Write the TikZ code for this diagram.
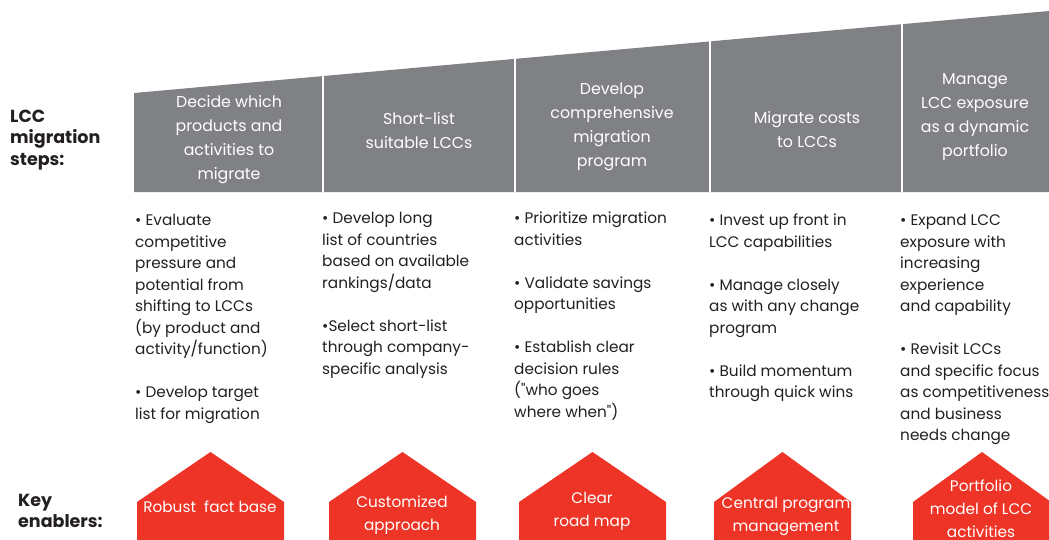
\documentclass[tikz,border=0pt]{standalone}
\usepackage{fontspec}
\setmainfont{Poppins}
\definecolor{bandgray}{HTML}{808184}
\definecolor{enablerred}{HTML}{EE3427}
\definecolor{ink}{HTML}{231F20}
\begin{document}
\begin{tikzpicture}[x=1pt, y=-1pt,
band/.style={fill=bandgray},
divider/.style={draw=white, line width=1.6pt},
head/.style={text=white, align=center, inner sep=0pt, font=\fontsize{15.8}{24}\selectfont},
bullets/.style={text=ink, align=left, anchor=north west, inner sep=0pt, font=\fontsize{15.3}{21.5}\selectfont},
house/.style={fill=enablerred},
housetext/.style={text=white, align=center, inner sep=0pt, font=\fontsize{15.3}{23}\selectfont},
rowlabel/.style={text=ink, align=left, anchor=west, inner sep=0pt, font=\bfseries\fontsize{17.5}{21.5}\selectfont},
]
\useasboundingbox (0,0) rectangle (1049,539);

% rising band of steps
\fill[band] (134,93) -- (1049,11) -- (1049,192) -- (134,192) -- cycle;
\foreach \x in {323,515,710,902}
    \draw[divider] (\x,0) -- (\x,192);

\node[rowlabel] (steps) at (10,140) {LCC\\migration\\steps:};

\node[head] (h1) at (229,140) {Decide which\\products and\\activities to\\migrate};
\node[head] (h2) at (419,131) {Short-list\\suitable LCCs};
\node[head] (h3) at (612,127) {Develop\\comprehensive\\migration\\program};
\node[head] (h4) at (807,130) {Migrate costs\\to LCCs};
\node[head] (h5) at (975,117) {Manage\\LCC exposure\\as a dynamic\\portfolio};

% bullet lists under each step
\node[bullets] (b1) at (135,214) {• Evaluate\\competitive\\pressure and\\potential from\\shifting to LCCs\\(by product and\\activity/function)\\[21.5pt]
    • Develop target\\list for migration};
\node[bullets] (b2) at (322,212) {• Develop long\\list of countries\\based on available\\rankings/data\\[21.5pt]
    •Select short-list\\through company-\\specific analysis};
\node[bullets] (b3) at (514,212) {• Prioritize migration\\activities\\[21.5pt]
    • Validate savings\\opportunities\\[21.5pt]
    • Establish clear\\decision rules\\(\textquotedbl who goes\\where when\textquotedbl)};
\node[bullets] (b4) at (709,214) {• Invest up front in\\LCC capabilities\\[21.5pt]
    • Manage closely\\as with any change\\program\\[21.5pt]
    • Build momentum\\through quick wins};
\node[bullets] (b5) at (900,214) {• Expand LCC\\exposure with\\increasing\\experience\\and capability\\[21.5pt]
    • Revisit LCCs\\and specific focus\\as competitiveness\\and business\\needs change};

% key enablers
\node[rowlabel] (enablers) at (18,511) {Key\\enablers:};
\foreach \xl/\xr in {137/284, 329/476, 519/666, 714/851, 913/1051}
    \fill[house] (\xl,540) -- (\xl,502) -- ({(\xl+\xr)/2},452) -- (\xr,502) -- (\xr,540) -- cycle;

\node[housetext] (e1) at (210,507) {Robust\ \ fact base};
\node[housetext] (e2) at (402,515) {Customized\\approach};
\node[housetext] (e3) at (592,511) {Clear\\road map};
\node[housetext] (e4) at (786,516) {Central program\\management};
\node[housetext] (e5) at (981,509) {Portfolio\\model of LCC\\activities};
\end{tikzpicture}
\end{document}
